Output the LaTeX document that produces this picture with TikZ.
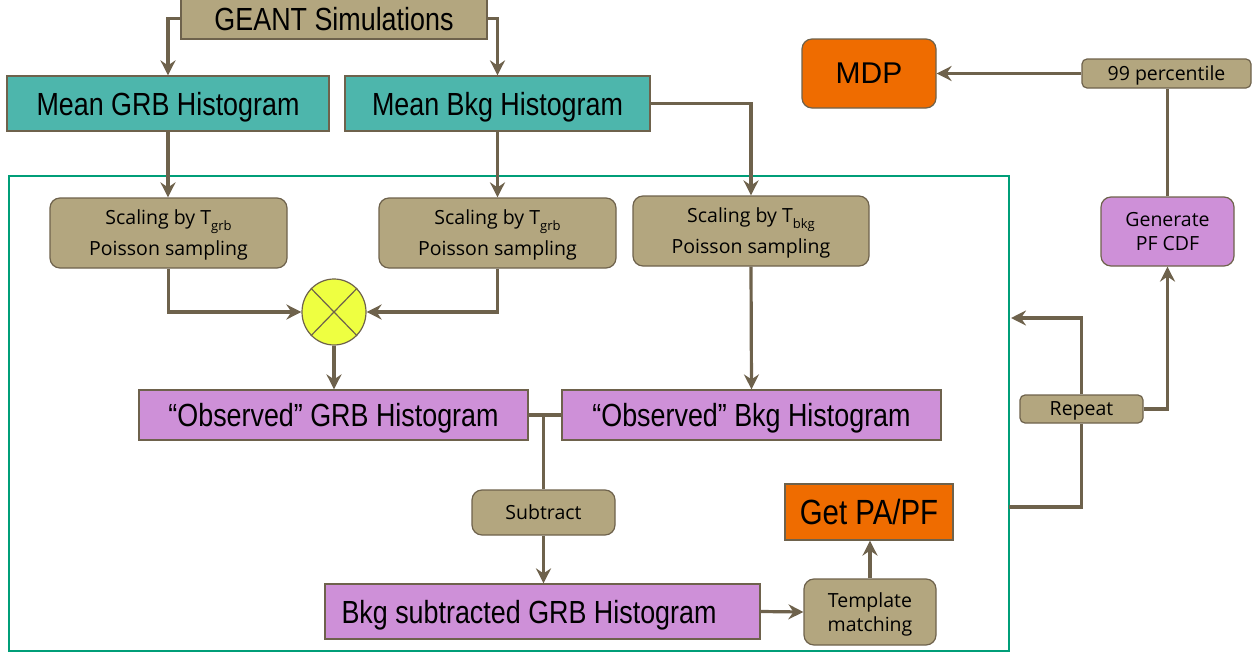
\documentclass[tikz,border=0pt]{standalone}
\usepackage{fontspec}
\usepackage{tikz}
\usetikzlibrary{arrows.meta,shapes.geometric}
\newfontfamily\headfont[FakeStretch=0.84]{Liberation Sans}
\newfontfamily\plainhead{Liberation Sans}
\newfontfamily\boxfont{Open Sans}
\definecolor{simtan}{HTML}{B3A67F}
\definecolor{simedge}{HTML}{6E624C}
\definecolor{meanteal}{HTML}{4DB6AC}
\definecolor{obspurple}{HTML}{CE90D8}
\definecolor{resorange}{HTML}{EF6C00}
\definecolor{mixyellow}{HTML}{EEFF41}
\definecolor{loopgreen}{HTML}{009E78}
\newcommand{\subtxt}[1]{\raisebox{-6pt}{\fontsize{13}{13}\selectfont #1}}
\tikzset{
        box_node/.style={rectangle, draw=simedge, line width=1.2pt, inner sep=0pt, align=center, text=black},
        big_text/.style={font=\headfont\fontsize{32}{36}\selectfont, text depth=0pt},
        small_text/.style={font=\boxfont\fontsize{19.5}{24}\selectfont, text depth=0pt},
        b_geant/.style={box_node, big_text, fill=simtan},
        b_mean/.style={box_node, big_text, fill=meanteal},
        b_obs/.style={box_node, big_text, fill=obspurple},
        b_step/.style={box_node, small_text, fill=simtan, rounded corners=10pt},
        b_stat/.style={box_node, small_text, fill=obspurple, rounded corners=10pt},
        b_mix/.style={ellipse, draw=simedge, line width=1.2pt, fill=mixyellow, inner sep=0pt},
        link/.style={draw=simedge, line width=3.2pt},
        link_arr/.style={link, -{Stealth[length=15pt, width=15pt, inset=5pt]}}
    }
\begin{document}
\begin{tikzpicture}[x=1pt, y=-1pt]
    \useasboundingbox (0,0) rectangle (1259,653);
    \draw[loopgreen, line width=2.8pt] (9,176) rectangle (1009,651);
    \coordinate (lp_out) at (1009,507);
    \coordinate (lp_in) at (1011,318);

    \node[b_geant, minimum width=306pt, minimum height=41pt] (geant) at (334,18.5) {GEANT Simulations};
    \node[b_mean, minimum width=322pt, minimum height=55pt] (mgrb) at (168,103.5) {Mean GRB Histogram};
    \node[b_mean, minimum width=305pt, minimum height=55pt] (mbkg) at (497.5,103.5) {Mean Bkg Histogram};

    \node[b_step, minimum width=237pt, minimum height=70pt, font=\boxfont\fontsize{19.5}{31}\selectfont] (sc_grb1) at (168.5,233) {Scaling by T\subtxt{grb}\\Poisson sampling};
    \node[b_step, minimum width=237pt, minimum height=70pt, font=\boxfont\fontsize{19.5}{31}\selectfont] (sc_grb2) at (497.5,233) {Scaling by T\subtxt{grb}\\Poisson sampling};
    \node[b_step, minimum width=236pt, minimum height=70pt, font=\boxfont\fontsize{19.5}{31}\selectfont] (sc_bkg) at (751,231) {Scaling by T\subtxt{bkg}\\Poisson sampling};

    \node[b_mix, minimum width=64pt, minimum height=66pt] (mix) at (334,312) {};
    \draw[simedge, line width=1.2pt] (mix.north west) -- (mix.south east) (mix.north east) -- (mix.south west);

    \node[b_obs, minimum width=389pt, minimum height=50pt] (ogrb) at (333.5,415) {“Observed” GRB Histogram};
    \node[b_obs, minimum width=379pt, minimum height=50pt] (obkg) at (751.5,415) {“Observed” Bkg Histogram};
    \coordinate (jn) at (543.5,415);

    \node[b_step, minimum width=143pt, minimum height=45pt] (subtr) at (543.5,512.5) {Subtract};
    \node[b_obs, minimum width=435pt, minimum height=55pt] (bsub) at (542.5,611.5) {\hspace*{-27pt}Bkg subtracted GRB Histogram};
    \node[b_step, minimum width=132pt, minimum height=66pt] (tmpl) at (870,612) {Template\\matching};
    \node[box_node, fill=resorange, minimum width=168pt, minimum height=56pt, text depth=0pt, font=\headfont\fontsize{35}{40}\selectfont] (papf) at (869,512) {Get PA/PF};

    \node[b_step, rounded corners=5pt, minimum width=123pt, minimum height=28pt] (rep) at (1081.5,409) {Repeat};
    \node[b_stat, minimum width=133pt, minimum height=69pt] (cdf) at (1167.5,231.5) {Generate\\PF CDF};
    \node[b_step, rounded corners=5pt, minimum width=169pt, minimum height=29pt] (pct) at (1166.5,73.5) {99 percentile};
    \node[box_node, fill=resorange, rounded corners=10pt, minimum width=134pt, minimum height=69pt, text depth=0pt, font=\plainhead\fontsize{30}{34}\selectfont] (mdp) at (869,73.5) {MDP};

    \draw[link_arr] (geant.west) -| (mgrb.north);
    \draw[link_arr] (geant.east) -| (mbkg.north);
    \draw[link_arr] (mgrb.south) -- (mgrb.south |- sc_grb1.north);
    \draw[link_arr] (mbkg.south) -- (sc_grb2.north);
    \draw[link_arr] (mbkg.east) -| (sc_bkg.north);
    \draw[link_arr] (sc_grb1.south) |- (mix.west);
    \draw[link_arr] (sc_grb2.south) |- (mix.east);
    \draw[link_arr] (mix.south) -- (mix.south |- ogrb.north);
    \draw[link_arr] (sc_bkg.south) -- (obkg.north);
    \draw[link] (ogrb.east) -- (obkg.west);
    \draw[link] (jn) -- (subtr.north);
    \draw[link_arr] (subtr.south) -- (subtr.south |- bsub.north);
    \draw[link_arr] (bsub.east) -- (tmpl.west);
    \draw[link_arr] (tmpl.north) -- (tmpl.north |- papf.south);
    \draw[link] (lp_out) -| (rep.south);
    \draw[link_arr] (rep.north) |- (lp_in);
    \draw[link_arr] (rep.east) -| (cdf.south);
    \draw[link] (cdf.north) -- (cdf.north |- pct.south);
    \draw[link_arr] (pct.west) -- (mdp.east);
\end{tikzpicture}
\end{document}
